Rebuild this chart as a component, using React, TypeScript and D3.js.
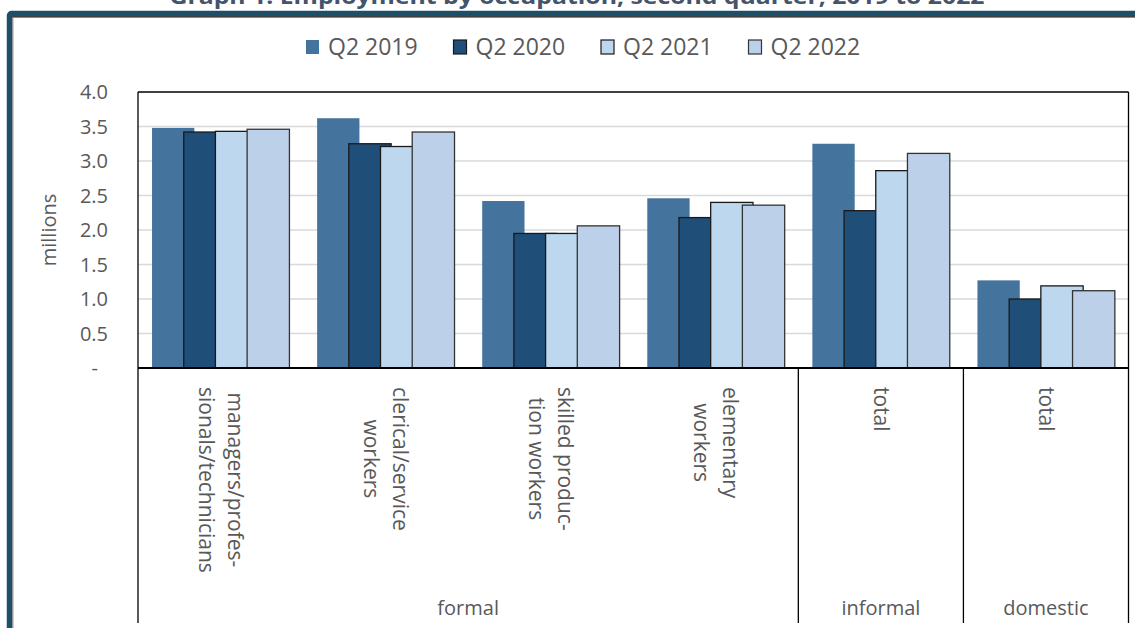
import React, { useEffect, useRef } from "react";
import * as d3 from "d3";

const title = "Graph 1: Employment by occupation, second quarter, 2019 to 2022";
const seriesNames = ["Q2 2019", "Q2 2020", "Q2 2021", "Q2 2022"];
const categoryLines: string[][] = [
  ["managers/profes-", "sionals/technicians"],
  ["clerical/service", "workers"],
  ["skilled produc-", "tion workers"],
  ["elementary", "workers"],
  ["total"],
  ["total"],
];
const groupLabels = ["formal", "informal", "domestic"];
const groupSpans = [4, 1, 1];
const q2019 = [3.48, 3.62, 2.42, 2.46, 3.25, 1.27];
const q2020 = [3.42, 3.25, 1.95, 2.18, 2.28, 1.0];
const q2021 = [3.43, 3.21, 1.95, 2.4, 2.86, 1.19];
const q2022 = [3.46, 3.42, 2.06, 2.36, 3.11, 1.12];
const seriesValues = [q2019, q2020, q2021, q2022];
const yTicks = [0, 0.5, 1, 1.5, 2, 2.5, 3, 3.5, 4];

const fills = ["#44749D", "#1F4E78", "#BDD7EE", "#BDD0E9"];
const strokes = ["none", "#1a1a1a", "#1a1a1a", "#333333"];
const FONT = "'Open Sans', sans-serif";
const GRAY = "#595959";

export default function App() {
  const ref = useRef<SVGSVGElement>(null);

  useEffect(() => {
    const svg = d3.select(ref.current);
    svg.selectAll("*").remove();

    const W = 1135, H = 628;
    const left = 138, right = 1128.5, top = 92, bottom = 368, axisBottom = 623;

    const idx = categoryLines.map((_, i) => String(i));
    const x0 = d3.scaleBand<string>().domain(idx).range([left, right]).padding(0);
    const step = x0.bandwidth() * 0.192;
    const inner = d3
      .scaleBand<string>()
      .domain(seriesNames)
      .range([x0.bandwidth() * 0.085, x0.bandwidth() * 0.085 + step * 4])
      .padding(0);
    const barW = inner.bandwidth() * 1.335;
    const y = d3.scaleLinear().domain([0, 4]).range([bottom, top]);

    // title (cut off at top)
    svg
      .append("text")
      .attr("x", 577)
      .attr("y", 4)
      .attr("text-anchor", "middle")
      .attr("font-family", FONT)
      .attr("font-weight", "bold")
      .attr("font-size", 22)
      .attr("fill", "#44546A")
      .attr("textLength", 815)
      .attr("lengthAdjust", "spacingAndGlyphs")
      .text(title);

    // frame
    svg
      .append("rect")
      .attr("x", 9.5)
      .attr("y", 13.5)
      .attr("width", 1300)
      .attr("height", 800)
      .attr("rx", 2)
      .attr("fill", "white")
      .attr("stroke", "#1D5068")
      .attr("stroke-width", 5.5);
    svg.append("line").attr("x1", 12).attr("x2", W).attr("y1", 16.8).attr("y2", 16.8).attr("stroke", "#111").attr("stroke-width", 1.2);
    svg.append("line").attr("x1", 12.8).attr("x2", 12.8).attr("y1", 17).attr("y2", H).attr("stroke", "#888").attr("stroke-width", 1.2);

    // gridlines
    svg
      .append("g")
      .selectAll("line")
      .data(yTicks.filter((t) => t > 0 && t < 4))
      .join("line")
      .attr("x1", left)
      .attr("x2", right)
      .attr("y1", (d) => y(d))
      .attr("y2", (d) => y(d))
      .attr("stroke", "#D9D9D9")
      .attr("stroke-width", 1.5);

    // bars
    seriesNames.forEach((s, si) => {
      svg
        .append("g")
        .selectAll("rect")
        .data(seriesValues[si])
        .join("rect")
        .attr("x", (_, i) => (x0(String(i)) as number) + (inner(s) as number))
        .attr("y", (d) => y(d))
        .attr("width", barW)
        .attr("height", (d) => y(0) - y(d))
        .attr("fill", fills[si])
        .attr("stroke", strokes[si])
        .attr("stroke-width", 1.3);
    });

    // plot border
    const frame = svg.append("g").attr("stroke", "#000").attr("fill", "none");
    frame.append("line").attr("x1", left).attr("x2", right).attr("y1", top).attr("y2", top).attr("stroke-width", 1.3);
    frame.append("line").attr("x1", left).attr("x2", left).attr("y1", top).attr("y2", axisBottom).attr("stroke-width", 1.3);
    frame.append("line").attr("x1", right).attr("x2", right).attr("y1", top).attr("y2", axisBottom).attr("stroke-width", 1.3);
    frame.append("line").attr("x1", left).attr("x2", right).attr("y1", bottom).attr("y2", bottom).attr("stroke-width", 1.8);

    // group separators
    let acc = 0;
    const groupStarts: number[] = [];
    groupSpans.forEach((sp) => {
      groupStarts.push(acc);
      acc += sp;
    });
    groupStarts.slice(1).forEach((g) => {
      const gx = x0(String(g)) as number;
      frame.append("line").attr("x1", gx).attr("x2", gx).attr("y1", bottom).attr("y2", axisBottom).attr("stroke-width", 1.3);
    });

    // y ticks
    svg
      .append("g")
      .selectAll("text")
      .data(yTicks)
      .join("text")
      .attr("x", (d) => (d === 0 ? 98 : 108))
      .attr("y", (d) => y(d))
      .attr("dy", "0.35em")
      .attr("text-anchor", "end")
      .attr("font-family", FONT)
      .attr("font-size", 20)
      .attr("fill", GRAY)
      .text((d) => (d === 0 ? "-" : d3.format(".1f")(d)));

    // y title
    svg
      .append("text")
      .attr("transform", `translate(49,230) rotate(-90)`)
      .attr("text-anchor", "middle")
      .attr("dy", "0.35em")
      .attr("font-family", FONT)
      .attr("font-size", 20)
      .attr("fill", GRAY)
      .text("millions");

    // category labels (rotated 90)
    const lineH = 29;
    categoryLines.forEach((lines, i) => {
      const cx = (x0(String(i)) as number) + x0.bandwidth() / 2;
      const g = svg.append("g");
      const texts = lines.map((ln) =>
        g
          .append("text")
          .attr("font-family", FONT)
          .attr("font-size", 21)
          .attr("fill", GRAY)
          .attr("text-anchor", "middle")
          .text(ln)
      );
      const maxLen = d3.max(texts, (t) => (t.node() as SVGTextElement).getComputedTextLength()) || 0;
      const cy = 387 + maxLen / 2;
      const n = lines.length;
      texts.forEach((t, li) => {
        const off = ((n - 1) / 2 - li) * lineH;
        t.attr("transform", `translate(${cx + off},${cy}) rotate(90)`).attr("dy", "0.35em");
      });
    });

    // group labels
    groupLabels.forEach((gl, gi) => {
      const s = x0(String(groupStarts[gi])) as number;
      const e = s + x0.bandwidth() * groupSpans[gi];
      svg
        .append("text")
        .attr("x", (s + e) / 2)
        .attr("y", 608)
        .attr("dy", "0.35em")
        .attr("text-anchor", "middle")
        .attr("font-family", FONT)
        .attr("font-size", 20)
        .attr("fill", GRAY)
        .text(gl);
    });

    // legend
    const lg = svg.append("g");
    seriesNames.forEach((s, si) => {
      const lx = 306 + si * 147.5;
      lg.append("rect")
        .attr("x", lx)
        .attr("y", 40)
        .attr("width", 13)
        .attr("height", 14)
        .attr("fill", fills[si])
        .attr("stroke", strokes[si])
        .attr("stroke-width", 1.2);
      lg.append("text")
        .attr("x", lx + 22)
        .attr("y", 47)
        .attr("dy", "0.35em")
        .attr("font-family", FONT)
        .attr("font-size", 23)
        .attr("fill", GRAY)
        .text(s);
    });
  }, []);

  return (
    <svg
      ref={ref}
      width={1135}
      height={628}
      style={{ position: "absolute", left: 0, top: 0, background: "white" }}
    />
  );
}
